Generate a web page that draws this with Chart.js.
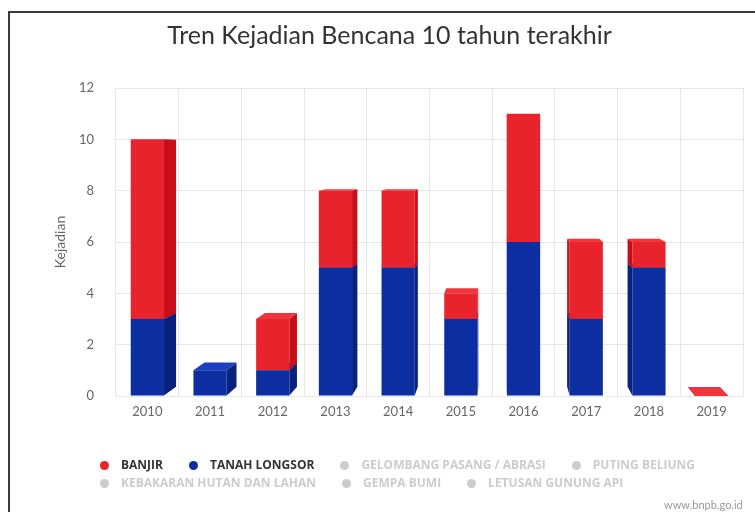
<!DOCTYPE html>
<html>
<head>
<meta charset="utf-8">
<script src="https://cdn.jsdelivr.net/npm/chart.js@4.4.0/dist/chart.umd.min.js"></script>
<style>
  html, body { margin: 0; padding: 0; background: #fff; }
  body { width: 755px; height: 512px; position: relative; overflow: hidden; font-family: Lato, sans-serif; }
  #wrap { position: absolute; left: 0; top: 0; width: 755px; height: 512px; }
  #frame { position: absolute; left: 8px; top: 11px; right: -10px; bottom: -10px;
    border-top: 2px solid #3a3a3a; border-left: 2px solid #3a3a3a; pointer-events: none; }
  #legend { position: absolute; left: 100px; top: 458px; width: 610px; display: flex; flex-wrap: wrap;
    column-gap: 26px; row-gap: 4px; }
  .item { display: flex; align-items: center; font: bold 12px "Open Sans", sans-serif; line-height: 14px; color: #333; }
  .item .dot { width: 9px; height: 9px; border-radius: 50%; margin-right: 12px; }
  .item.off { color: #cccccc; }
  #credit { position: absolute; left: 664px; top: 498px; font: 11px Lato, sans-serif; color: #999; }
</style>
</head>
<body>
<div id="wrap"><canvas id="chart"></canvas></div>
<div id="legend"></div>
<div id="credit">www.bnpb.go.id</div>
<div id="frame"></div>
<script>
const years = ['2010', '2011', '2012', '2013', '2014', '2015', '2016', '2017', '2018', '2019'];
const tanahLongsor = [3, 1, 1, 5, 5, 3, 6, 3, 5, 0];
const banjir = [7, 0, 2, 3, 3, 1, 5, 3, 1, 0];
const yTicks = [0, 2, 4, 6, 8, 10, 12];

const legendNames = ['BANJIR', 'TANAH LONGSOR', 'GELOMBANG PASANG / ABRASI', 'PUTING BELIUNG',
  'KEBAKARAN HUTAN DAN LAHAN', 'GEMPA BUMI', 'LETUSAN GUNUNG API'];
const legendColors = ['#e8232b', '#0d2ea0', '#cccccc', '#cccccc', '#cccccc', '#cccccc', '#cccccc'];
const legendShown = [true, true, false, false, false, false, false];

// legenda ala highcharts (seri tersembunyi abu-abu)
const legend = document.getElementById('legend');
legendNames.forEach((name, i) => {
  const item = document.createElement('div');
  item.className = 'item' + (legendShown[i] ? '' : ' off');
  item.innerHTML = `<span class="dot" style="background:${legendColors[i]}"></span>${name}`;
  legend.appendChild(item);
});

// sisi samping & atas batang, kesan 3D
const depthPlugin = {
  id: 'depth',
  beforeDatasetsDraw(chart) {
    const ctx = chart.ctx;
    const vx = 500, vy = 150, s = 0.964;
    const back = (x, y) => [vx + (x - vx) * s, vy + (y - vy) * s];
    const poly = pts => {
      ctx.beginPath();
      pts.forEach((p, k) => k ? ctx.lineTo(p[0], p[1]) : ctx.moveTo(p[0], p[1]));
      ctx.closePath();
      ctx.fill();
    };
    ctx.save();
    chart.data.datasets.forEach((ds, di) => {
      const meta = chart.getDatasetMeta(di);
      meta.data.forEach((bar, i) => {
        const below = chart.data.datasets.slice(0, di).reduce((a, d) => a + d.data[i], 0);
        if (ds.data[i] === 0 && below > 0) return;
        const { x, y, base, width } = bar.getProps(['x', 'y', 'base', 'width'], true);
        const l = x - width / 2, r = x + width / 2;
        const t = Math.min(y, base), b = Math.max(y, base);
        ctx.fillStyle = ds.sideColor;
        if (r < vx) poly([[r, t], back(r, t), back(r, b), [r, b]]);
        else if (l > vx) poly([[l, t], back(l, t), back(l, b), [l, b]]);
        if (t > vy) {
          ctx.fillStyle = ds.topColor;
          poly([[l, t], [r, t], back(r, t), back(l, t)]);
        }
      });
    });
    ctx.restore();
  }
};

new Chart(document.getElementById('chart'), {
  type: 'bar',
  data: {
    labels: years,
    datasets: [
      {
        label: 'TANAH LONGSOR',
        data: tanahLongsor,
        backgroundColor: '#0d2ea0',
        sideColor: '#08207e',
        topColor: '#1a3fbf',
        barPercentage: 0.53,
        categoryPercentage: 1
      },
      {
        label: 'BANJIR',
        data: banjir,
        backgroundColor: '#e8232b',
        sideColor: '#c80e18',
        topColor: '#f2343c',
        barPercentage: 0.53,
        categoryPercentage: 1
      }
    ]
  },
  options: {
    responsive: true,
    maintainAspectRatio: false,
    animation: false,
    layout: { padding: { left: 36, right: 12, top: 0, bottom: 0 } },
    plugins: {
      legend: { display: false },
      tooltip: { enabled: false },
      title: {
        display: true,
        text: 'Tren Kejadian Bencana 10 tahun terakhir',
        color: '#333',
        font: { family: 'Lato', size: 25, weight: 'normal' },
        padding: { top: 21, bottom: 37 }
      }
    },
    scales: {
      x: {
        stacked: true,
        grid: { color: '#e6e6e6', drawTicks: false },
        border: { display: false },
        ticks: { color: '#666', font: { family: 'Lato', size: 13 }, padding: 8 },
        afterFit: scale => { scale.height = 116; }
      },
      y: {
        stacked: true,
        min: 0,
        max: 12,
        grid: { color: '#e6e6e6', drawTicks: false },
        border: { display: false },
        afterBuildTicks: scale => { scale.ticks = yTicks.map(v => ({ value: v })); },
        ticks: { color: '#666', font: { family: 'Lato', size: 13 }, padding: 22 },
        title: {
          display: true,
          text: 'Kejadian',
          color: '#666',
          font: { family: 'Lato', size: 14 },
          padding: { top: 16, bottom: 0 }
        },
        afterFit: scale => { scale.width = 80; }
      }
    }
  },
  plugins: [depthPlugin]
});
</script>
</body>
</html>
